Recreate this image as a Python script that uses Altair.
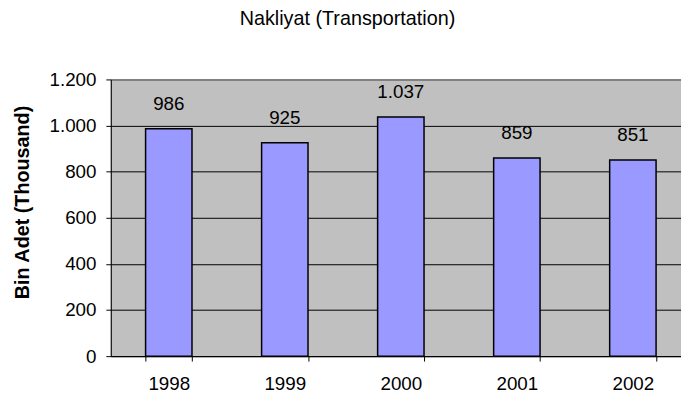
import altair as alt
import pandas as pd

years = ["1998", "1999", "2000", "2001", "2002"]
values = [986, 925, 1037, 859, 851]
y_ticks = [0, 200, 400, 600, 800, 1000, 1200]

df = pd.DataFrame({"year": years, "value": values})

FONT = "Liberation Sans"
RANGE_W = 587

x = alt.X(
    "year:N", title=None, sort=years,
    scale=alt.Scale(paddingInner=0.6, paddingOuter=0.3, range=[0, RANGE_W]),
    axis=alt.Axis(labelAngle=0, tickBand="extent", domainColor="black",
                  tickColor="black", tickSize=5, labelPadding=14,
                  labelFontSize=19, labelFont=FONT, labelColor="black",
                  grid=False),
)
y = alt.Y(
    "value:Q", title="Bin Adet (Thousand)",
    scale=alt.Scale(domain=[0, 1200], nice=False),
    axis=alt.Axis(values=y_ticks,
                  labelExpr="replace(format(datum.value, ','), ',', '.')",
                  grid=True,
                  gridColor=alt.condition("datum.value == 1200", alt.value("#808080"), alt.value("black")),
                  gridWidth=alt.condition("datum.value == 1200", alt.value(2), alt.value(1)),
                  domainColor="black", tickColor="black", tickSize=5,
                  labelPadding=10, labelFontSize=19, labelFont=FONT,
                  labelColor="black",
                  titleFont=FONT, titleFontSize=20, titleFontWeight="bold",
                  titleColor="black", titleX=-89, titleY=124, titleAngle=270,
                  titleAlign="center", titleBaseline="middle"),
)

bars = alt.Chart(df).mark_bar(fill="#9999FF", stroke="black", strokeWidth=1.5).encode(x=x, y=y)

labels = alt.Chart(df).transform_calculate(
    label="replace(format(datum.value, ','), ',', '.')"
).mark_text(dy=-19, baseline="alphabetic", fontSize=19, font=FONT, color="black").encode(
    x=x, y=y, text="label:N"
)

chart = alt.layer(bars, labels).properties(
    width=577, height=280,
    title=alt.Title("Nakliyat (Transportation)", fontSize=20, font=FONT,
                    fontWeight="normal", anchor="middle", dx=-49, offset=26,
                    baseline="alphabetic", color="black"),
    padding={"left": 104, "top": 70, "right": 0, "bottom": 35},
    autosize="none",
).configure_view(fill="#C0C0C0", stroke="#808080", strokeWidth=1)

chart.save("out.html", embed_options={"renderer": "svg", "actions": False})
